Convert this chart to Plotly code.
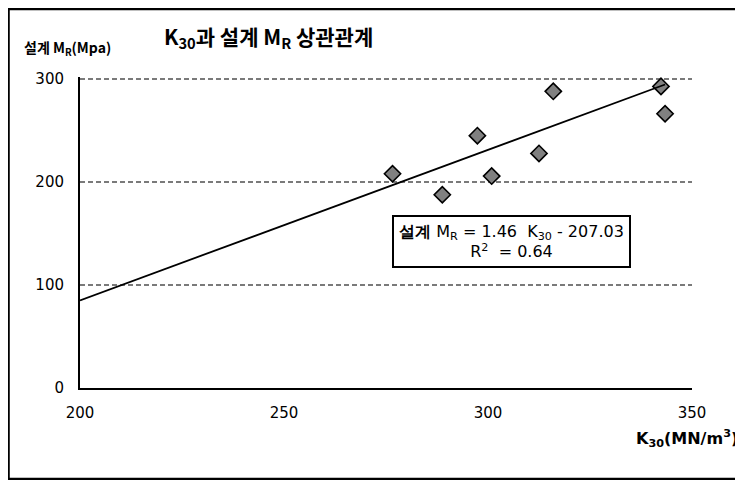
import plotly.graph_objects as go

# Data
k30 = [276.6, 288.8, 297.4, 300.9, 312.5, 316.0, 342.4, 343.4]
mr = [207.8, 187.4, 244.7, 205.5, 227.5, 287.7, 292.5, 266.0]
slope = 1.46
intercept = -207.03
r2 = 0.64
x_ticks = [200, 250, 300, 350]
y_ticks = [0, 100, 200, 300]

trend_x = [x_ticks[0], max(k30)]
trend_y = [slope * v + intercept for v in trend_x]

KFONT = "Noto Sans CJK KR"
NFONT = "DejaVu Sans"

fig = go.Figure()
fig.add_trace(go.Scatter(
    x=k30, y=mr, mode="markers",
    marker=dict(symbol="diamond", size=12.5, color="#808080",
                line=dict(color="black", width=1.6)),
    hoverinfo="skip", showlegend=False, cliponaxis=False))
fig.add_trace(go.Scatter(
    x=trend_x, y=trend_y, mode="lines",
    line=dict(color="black", width=1.8),
    hoverinfo="skip", showlegend=False, cliponaxis=False))

fig.update_layout(
    width=743, height=480,
    margin=dict(l=72, r=59, t=69.4, b=100),
    paper_bgcolor="white", plot_bgcolor="white",
    font=dict(family=NFONT, size=15, color="black"),
    xaxis=dict(range=[x_ticks[0], x_ticks[-1]], tickvals=x_ticks,
               showgrid=False, zeroline=False,
               showline=True, linecolor="black", linewidth=2,
               ticks="outside", ticklen=10, tickcolor="rgba(0,0,0,0)",
               tickfont=dict(family=NFONT, size=15)),
    yaxis=dict(range=[y_ticks[0], y_ticks[-1] + 1.6], tickvals=y_ticks,
               showgrid=True, gridcolor="#7a7a7a", gridwidth=1.5,
               griddash="5px,3px", zeroline=False,
               showline=True, linecolor="black", linewidth=2,
               ticks="outside", ticklen=11, tickcolor="rgba(0,0,0,0)",
               tickfont=dict(family=NFONT, size=15)),
)

# outer chart border
fig.add_shape(type="rect", xref="paper", yref="paper",
              x0=-0.1168, x1=1.1, y0=-0.293, y1=1.2186,
              line=dict(color="black", width=2.5), layer="below")

nb = "\u00a0"
# title
fig.add_annotation(
    xref="paper", yref="paper", x=0.1335, y=1.130,
    xanchor="left", yanchor="middle", showarrow=False,
    text="<b>K<sub>30</sub>과 설계 M<sub>R</sub> 상관관계</b>",
    font=dict(family=KFONT, size=21, color="black"))
# y axis title
fig.add_annotation(
    xref="paper", yref="paper", x=-0.0948, y=1.0947,
    xanchor="left", yanchor="middle", showarrow=False,
    text="<b>설계 M<sub>R</sub>(Mpa)</b>",
    font=dict(family=KFONT, size=14, color="black"))
# x axis title
fig.add_annotation(
    xref="paper", yref="paper", x=0.905, y=-0.161,
    xanchor="left", yanchor="middle", showarrow=False,
    text="<b>K<sub>30</sub>(MN/m<sup>3</sup>)</b>",
    font=dict(family=NFONT, size=16, color="black"))
# equation box
eq = (f"<b>설계</b> M<sub>R</sub> = {slope:.2f}{nb}{nb}K<sub>30</sub> - {abs(intercept):.2f}"
      f"<br>R<sup>2</sup>{nb}{nb}= {r2:.2f}")
fig.add_annotation(
    xref="paper", yref="paper", x=0.705, y=0.4717,
    xanchor="center", yanchor="middle", showarrow=False,
    text=eq, align="center", width=235, height=49,
    bordercolor="black", borderwidth=2, borderpad=0, bgcolor="white",
    font=dict(family=NFONT, size=16, color="black"))

fig.write_html("out.html")
